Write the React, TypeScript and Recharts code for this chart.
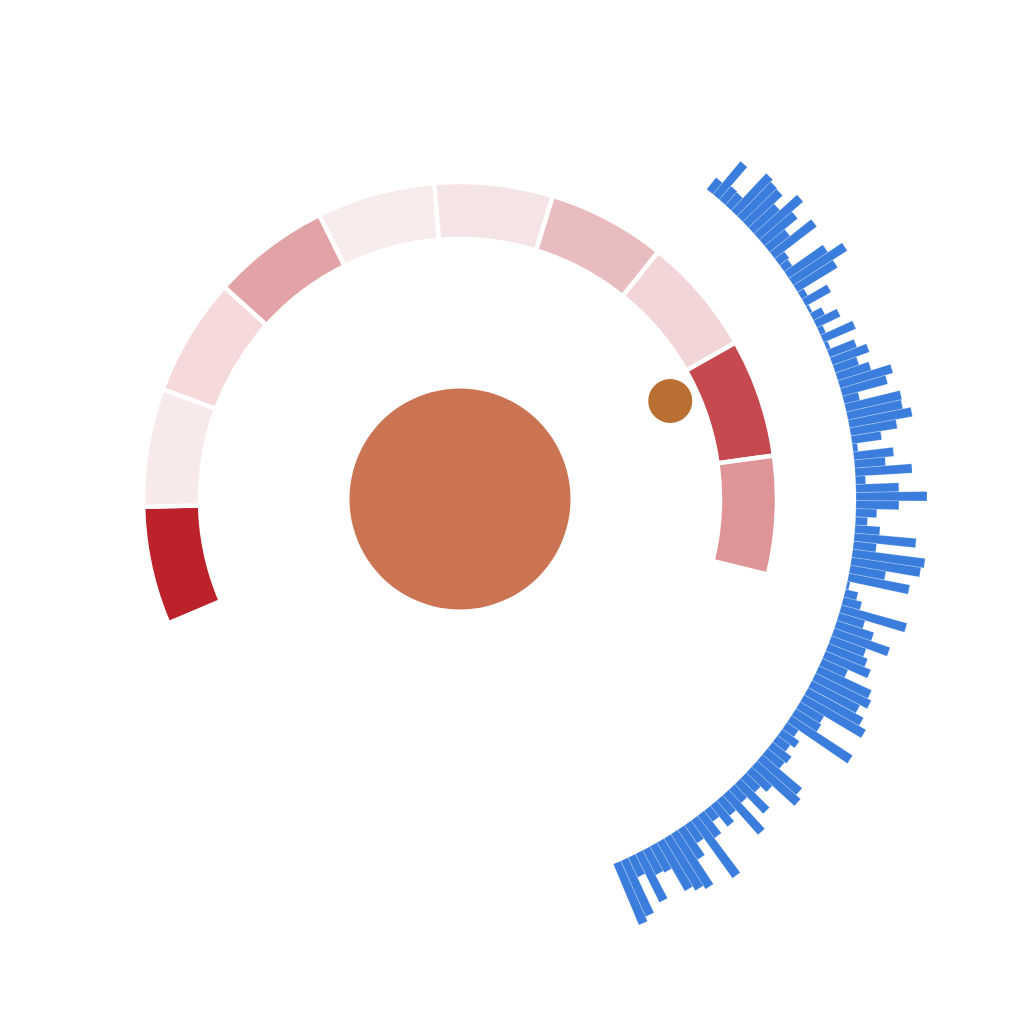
import {
  PieChart,
  Pie,
  Cell,
  RadialBarChart,
  RadialBar,
  PolarAngleAxis,
  PolarRadiusAxis,
} from "recharts";

const SIZE = 1008;
const CX = 452;
const CY = 491;

// outer ring: ten equal segments, shaded by intensity
const ringSegments = ["s1", "s2", "s3", "s4", "s5", "s6", "s7", "s8", "s9", "s10"];
const ringWeights = [1, 1, 1, 1, 1, 1, 1, 1, 1, 1];
const ringColors = [
  "#bc2229", "#f8eaeb", "#f5d9db", "#e2a3a7", "#f7ebeb",
  "#f5e4e5", "#e9bcbf", "#f1d5d7", "#c64950", "#df9598",
];

// radial bars, read clockwise from the top
const barValues = [
  15, 43, 18, 17, 51, 48, 47, 35, 58, 43,
  26, 53, 12, 10, 47, 64, 47, 7, 29, 3,
  13, 26, 6, 35, 4, 29, 39, 25, 35, 55,
  47, 16, 57, 56, 64, 47, 30, 5, 40, 31,
  57, 10, 43, 71, 43, 21, 12, 25, 62, 23,
  73, 70, 36, 62, 3, 13, 19, 68, 27, 39,
  59, 37, 42, 49, 28, 58, 62, 54, 63, 71,
  28, 30, 73, 14, 21, 16, 24, 22, 52, 58,
  28, 20, 41, 18, 53, 20, 27, 14, 28, 71,
  22, 36, 65, 61, 56, 30, 28, 54, 22, 61,
  66,
];

const coreValue = [1];
const dotValue = [1];
const dotAngle = 25;
const dotRadius = 232;

const ringData = ringSegments.map((name, i) => ({ name, value: ringWeights[i] }));
const barData = barValues.map((value, i) => ({ name: `b${i + 1}`, value }));
const coreData = coreValue.map((value) => ({ name: "core", value }));
const dotData = dotValue.map((value) => ({ name: "dot", value }));

const dotCx = CX + dotRadius * Math.cos((dotAngle * Math.PI) / 180);
const dotCy = CY - dotRadius * Math.sin((dotAngle * Math.PI) / 180);

export default function App() {
  return (
    <div style={{ position: "relative", width: SIZE, height: SIZE, background: "#fff" }}>
      <div style={{ position: "absolute", left: 0, top: 0 }}>
        <RadialBarChart
          width={SIZE}
          height={SIZE}
          cx={CX}
          cy={CY}
          innerRadius={396}
          outerRadius={476}
          startAngle={50.3}
          endAngle={-68.4}
          layout="centric"
          data={barData}
          barCategoryGap="0%"
          barGap={0}
          margin={{ top: 0, right: 0, bottom: 0, left: 0 }}
        >
          <PolarAngleAxis type="category" dataKey="name" tick={false} tickLine={false} axisLine={false} />
          <PolarRadiusAxis type="number" domain={[0, 80]} tick={false} axisLine={false} />
          <RadialBar
            dataKey="value"
            barSize={1.17}
            fill="#3a7ddc"
            stroke="#ffffff"
            strokeOpacity={0.45}
            strokeWidth={0.5}
            isAnimationActive={false}
          />
        </RadialBarChart>
      </div>
      <div style={{ position: "absolute", left: 0, top: 0 }}>
        <PieChart width={SIZE} height={SIZE} margin={{ top: 0, right: 0, bottom: 0, left: 0 }}>
          <Pie
            data={ringData}
            dataKey="value"
            cx={CX}
            cy={CY}
            innerRadius={260}
            outerRadius={317}
            startAngle={203.1}
            endAngle={-13.8}
            stroke="#fff"
            strokeWidth={4.5}
            isAnimationActive={false}
          >
            {ringData.map((entry, index) => (
              <Cell key={`ring-${index}`} fill={ringColors[index]} />
            ))}
          </Pie>
          <Pie
            data={coreData}
            dataKey="value"
            cx={CX}
            cy={CY}
            innerRadius={0}
            outerRadius={110.5}
            stroke="none"
            fill="#cb7454"
            isAnimationActive={false}
          />
          <Pie
            data={dotData}
            dataKey="value"
            cx={dotCx}
            cy={dotCy}
            innerRadius={0}
            outerRadius={22}
            stroke="none"
            fill="#b96f32"
            isAnimationActive={false}
          />
        </PieChart>
      </div>
    </div>
  );
}
